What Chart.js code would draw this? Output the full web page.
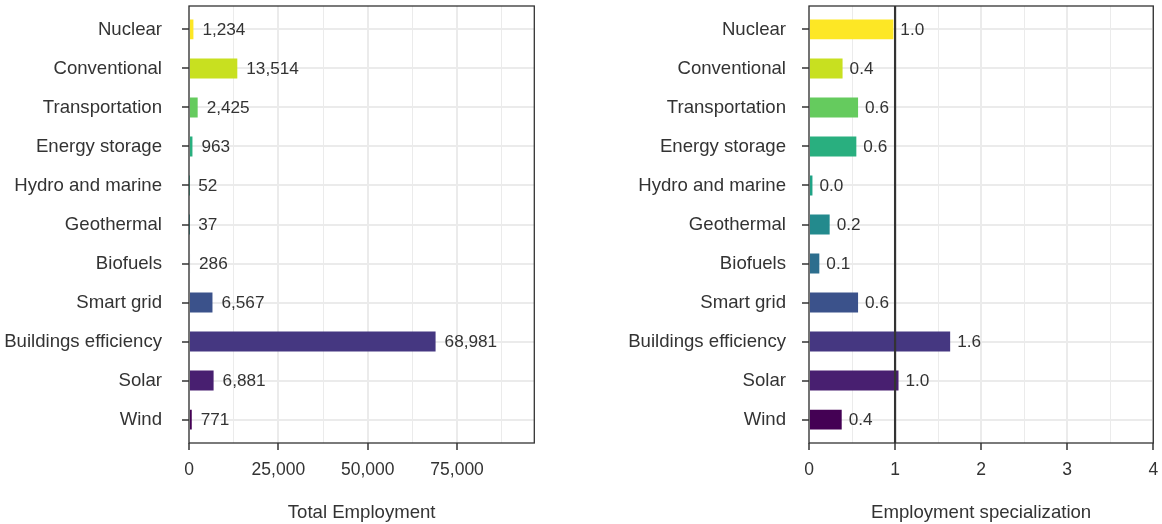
<!DOCTYPE html>
<html><head><meta charset="utf-8">
<script src="https://cdn.jsdelivr.net/npm/chart.js@4.4.1/dist/chart.umd.min.js"></script>
<style>
html,body{margin:0;padding:0;background:#fff;}
#wrap{position:relative;width:1162px;height:524px;overflow:hidden;}
.box{position:absolute;top:0;height:524px;width:581px;}
#b1{left:0;} #b2{left:581px;}
canvas{display:block;}
</style></head><body>
<div id="wrap">
  <div class="box" id="b1"><canvas id="c1" width="581" height="524"></canvas></div>
  <div class="box" id="b2"><canvas id="c2" width="581" height="524"></canvas></div>
</div>
<script>
// ---- data ----
const categories = ['Nuclear','Conventional','Transportation','Energy storage','Hydro and marine','Geothermal','Biofuels','Smart grid','Buildings efficiency','Solar','Wind'];
const totalEmployment = [1234, 13514, 2425, 963, 52, 37, 286, 6567, 68981, 6881, 771];
const employmentSpecialization = [0.98, 0.39, 0.57, 0.55, 0.04, 0.24, 0.12, 0.57, 1.64, 1.04, 0.38];
const employmentTicks = [0, 25000, 50000, 75000];
const specializationTicks = [0, 1, 2, 3, 4];
const referenceValue = 1;

// ---- style ----
const barColors = ['#FDE725','#C8E020','#65CB5E','#29AF7F','#20A386','#238A8D','#2D6E8E','#3B528B','#453781','#481F70','#440154'];
const FONT = "'Liberation Sans', Arimo, Helvetica, Arial, sans-serif";
const TXT = '#333333';
const GRID = '#EBEBEB';

function minorTicks(major, max){
  const step = major[1]-major[0];
  const out = [];
  for (let v = major[0] + step/2; v < max; v += step) out.push(v);
  return out;
}

function makeChart(id, values, cfg){
  const majorSet = new Set(cfg.majorTicks);
  const allTicks = cfg.majorTicks.concat(minorTicks(cfg.majorTicks, cfg.max)).sort((a,b)=>a-b);
  const isMajor = v => majorSet.has(v);

  const framePlugin = {
    id: 'frame_' + id,
    afterDatasetsDraw(chart){
      const {ctx, chartArea: a, scales} = chart;
      ctx.save();
      if (cfg.refLine !== undefined){
        const x = scales.x.getPixelForValue(cfg.refLine);
        ctx.strokeStyle = '#333';
        ctx.lineWidth = 2.2;
        ctx.beginPath(); ctx.moveTo(x, a.top); ctx.lineTo(x, a.bottom); ctx.stroke();
      }
      ctx.strokeStyle = '#333';
      ctx.lineWidth = 1.3;
      ctx.strokeRect(a.left, a.top, a.right - a.left, a.bottom - a.top);
      // value labels
      ctx.fillStyle = TXT;
      ctx.font = '17.2px ' + FONT;
      ctx.textAlign = 'left';
      ctx.textBaseline = 'middle';
      const meta = chart.getDatasetMeta(0);
      meta.data.forEach((el, i) => {
        ctx.fillText(cfg.fmtLabel(values[i]), el.x + cfg.labelOffset, el.y + 1);
      });
      ctx.restore();
    }
  };

  return new Chart(document.getElementById(id), {
    type: 'bar',
    data: {
      datasets: [{
        data: values.map((v, i) => ({x: v, y: i})),
        backgroundColor: barColors,
        borderWidth: 0,
        barPercentage: 0.51,
        categoryPercentage: 1
      }]
    },
    options: {
      indexAxis: 'y',
      responsive: false,
      animation: false,
      events: [],
      layout: { padding: { top: 6, right: cfg.padRight, bottom: 0, left: 0 } },
      plugins: { legend: {display: false}, tooltip: {enabled: false} },
      scales: {
        x: {
          type: 'linear', min: 0, max: cfg.max,
          afterBuildTicks: s => { s.ticks = allTicks.map(v => ({value: v})); },
          afterFit: s => { s.height = 81; s.paddingLeft = 0; s.paddingRight = 0; },
          ticks: {
            autoSkip: false, maxRotation: 0, includeBounds: false,
            callback: v => isMajor(v) ? cfg.fmtTick(v) : '',
            color: TXT, font: {family: FONT, size: 17.5}, padding: 10
          },
          grid: {
            color: GRID,
            lineWidth: c => (c.tick && isMajor(c.tick.value)) ? 2 : 1,
            tickColor: c => (c.tick && isMajor(c.tick.value)) ? '#333' : 'rgba(0,0,0,0)',
            tickLength: 7, tickWidth: 1.5
          },
          border: {display: false},
          title: {
            display: true, text: cfg.title, color: TXT,
            font: {family: FONT, size: 18.6, lineHeight: 1.2},
            padding: {top: 0, bottom: 0}
          }
        },
        y: {
          type: 'linear', min: -0.6, max: categories.length - 0.4, reverse: true,
          offset: false,
          afterBuildTicks: s => { s.ticks = categories.map((c, i) => ({value: i})); },
          afterFit: s => { s.width = cfg.yWidth; s.paddingTop = 0; s.paddingBottom = 0; },
          ticks: {
            autoSkip: false,
            callback: v => categories[v],
            color: TXT, font: {family: FONT, size: 18.6}, padding: cfg.yPad
          },
          grid: { offset: false, color: GRID, lineWidth: 2, tickColor: '#333', tickLength: 7, tickWidth: 1.5 },
          border: {display: false}
        }
      }
    },
    plugins: [framePlugin]
  });
}

makeChart('c1', totalEmployment, {
  majorTicks: employmentTicks, max: 96600,
  title: 'Total Employment',
  fmtTick: v => v.toLocaleString('en-US'),
  fmtLabel: v => v.toLocaleString('en-US'),
  labelOffset: 9, yWidth: 189, yPad: 20, padRight: 46.7
});

makeChart('c2', employmentSpecialization, {
  majorTicks: specializationTicks, max: 4,
  title: 'Employment specialization',
  fmtTick: v => String(v),
  fmtLabel: v => v.toFixed(1),
  labelOffset: 7, yWidth: 228, yPad: 16, padRight: 8.7,
  refLine: referenceValue
});
</script>
</body></html>
